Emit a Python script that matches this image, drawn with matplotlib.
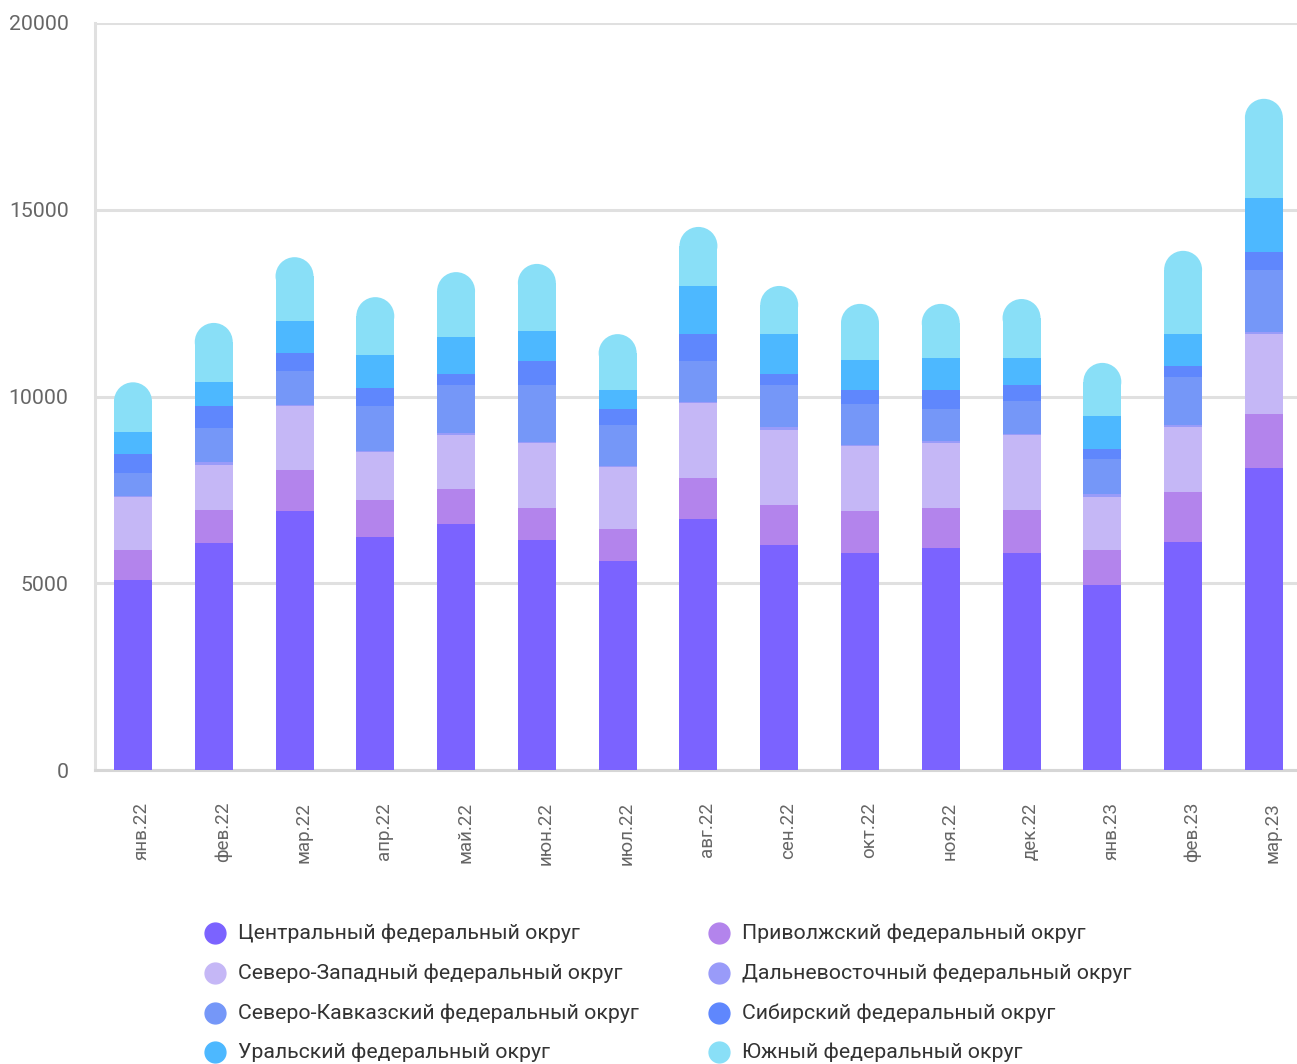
import matplotlib
matplotlib.use("Agg")
import matplotlib.pyplot as plt
import matplotlib.transforms as mtransforms
from matplotlib.lines import Line2D
from matplotlib.patches import Ellipse
import numpy as np

plt.rcParams["font.family"] = ["Roboto", "DejaVu Sans"]

# ---- data -------------------------------------------------------------
months = ["янв.22", "фев.22", "мар.22", "апр.22", "май.22", "июн.22", "июл.22",
          "авг.22", "сен.22", "окт.22", "ноя.22", "дек.22", "янв.23", "фев.23", "мар.23"]

central = [5090, 6080, 6930, 6240, 6590, 6160, 5600, 6720, 6020, 5810, 5940, 5810, 4950, 6100, 8090]
volga = [800, 880, 1100, 990, 930, 850, 850, 1100, 1080, 1120, 1070, 1150, 940, 1340, 1440]
northwest = [1420, 1210, 1720, 1280, 1450, 1750, 1660, 2010, 2000, 1740, 1750, 2010, 1420, 1740, 2140]
fareast = [30, 80, 30, 30, 50, 30, 30, 30, 80, 30, 50, 30, 80, 60, 60]
ncaucasus = [610, 910, 900, 1210, 1290, 1520, 1100, 1090, 1130, 1100, 860, 880, 940, 1280, 1660]
siberia = [510, 590, 480, 480, 290, 640, 430, 720, 290, 370, 500, 430, 260, 300, 480]
ural = [590, 640, 860, 880, 990, 800, 500, 1290, 1070, 810, 860, 720, 890, 850, 1440]
south = [1330, 1580, 1710, 1550, 1740, 1800, 1500, 1580, 1290, 1500, 1450, 1580, 1420, 2230, 2660]

series_names = [
    "Центральный федеральный округ",
    "Приволжский федеральный округ",
    "Северо-Западный федеральный округ",
    "Дальневосточный федеральный округ",
    "Северо-Кавказский федеральный округ",
    "Сибирский федеральный округ",
    "Уральский федеральный округ",
    "Южный федеральный округ",
]
series_values = [central, volga, northwest, fareast, ncaucasus, siberia, ural, south]
colors = ["#7b63ff", "#b384ec", "#c5b7f6", "#999bf9", "#7597f8", "#5f87fd", "#4db8ff", "#89dff7"]

# ---- figure -----------------------------------------------------------
W, H = 1297, 1064
fig = plt.figure(figsize=(W / 100, H / 100), dpi=100)
ax = fig.add_axes([95 / W, (H - 770) / H, (W - 95) / W, (770 - 23) / H])

x = np.arange(len(months))
bar_w = 0.47
ax.set_xlim(-0.47, 14.41)
ax.set_ylim(0, 20000)

# pixel scale -> radius of the rounded cap in data units
px_x = ax.transData.transform((1, 0))[0] - ax.transData.transform((0, 0))[0]
px_y = ax.transData.transform((0, 1000))[1] - ax.transData.transform((0, 0))[1]
r_y = (bar_w / 2 * px_x) / px_y * 1000

bottom = np.zeros(len(months))
for i, (name, vals, col) in enumerate(zip(series_names, series_values, colors)):
    vals = np.array(vals, dtype=float)
    if i < len(series_values) - 1:
        ax.bar(x, vals, bar_w, bottom=bottom, color=col, linewidth=0, zorder=3)
    else:
        # last segment: rounded top
        ax.bar(x, vals - r_y, bar_w, bottom=bottom, color=col, linewidth=0, zorder=3)
        for xi, b, v in zip(x, bottom, vals):
            ax.add_patch(Ellipse((xi, b + v - r_y), bar_w, 2 * r_y, color=col,
                                 linewidth=0, zorder=3))
    bottom += vals

# ---- axes styling -----------------------------------------------------
grid_col = "#e0e0e0"
ax.set_yticks([0, 5000, 10000, 15000, 20000])
ax.yaxis.grid(True, color=grid_col, linewidth=2.2, zorder=0)
ax.set_axisbelow(True)
for s in ["top", "right"]:
    ax.spines[s].set_visible(False)
ax.spines["left"].set_color(grid_col)
ax.spines["left"].set_linewidth(2.2)
ax.spines["bottom"].set_color("#d6d6d6")
ax.spines["bottom"].set_linewidth(2.2)
ax.tick_params(axis="y", length=0, pad=19, labelsize=15.3, labelcolor="#666666")
ax.set_xticks(x)
ax.set_xticklabels(months, rotation=90, fontsize=13.5, color="#666666")
ax.tick_params(axis="x", length=0, pad=23)
shift = mtransforms.ScaledTranslation(9 / 100, 0, fig.dpi_scale_trans)
for lbl in ax.get_xticklabels():
    lbl.set_transform(lbl.get_transform() + shift)

# ---- legend (two columns, row-wise order) -----------------------------
col_x = [215, 719]
row_y = [933, 973, 1013, 1052]
for i, (name, col) in enumerate(zip(series_names, colors)):
    cx = col_x[i % 2]
    cy = row_y[i // 2]
    fig.add_artist(Line2D([cx / W], [1 - cy / H], marker="o", markersize=15,
                          color=col, linestyle="none", transform=fig.transFigure))
    fig.text((cx + 23) / W, 1 - cy / H, name, fontsize=15.3, color="#333333",
             va="center", ha="left")

fig.savefig("out.png", dpi=100)
